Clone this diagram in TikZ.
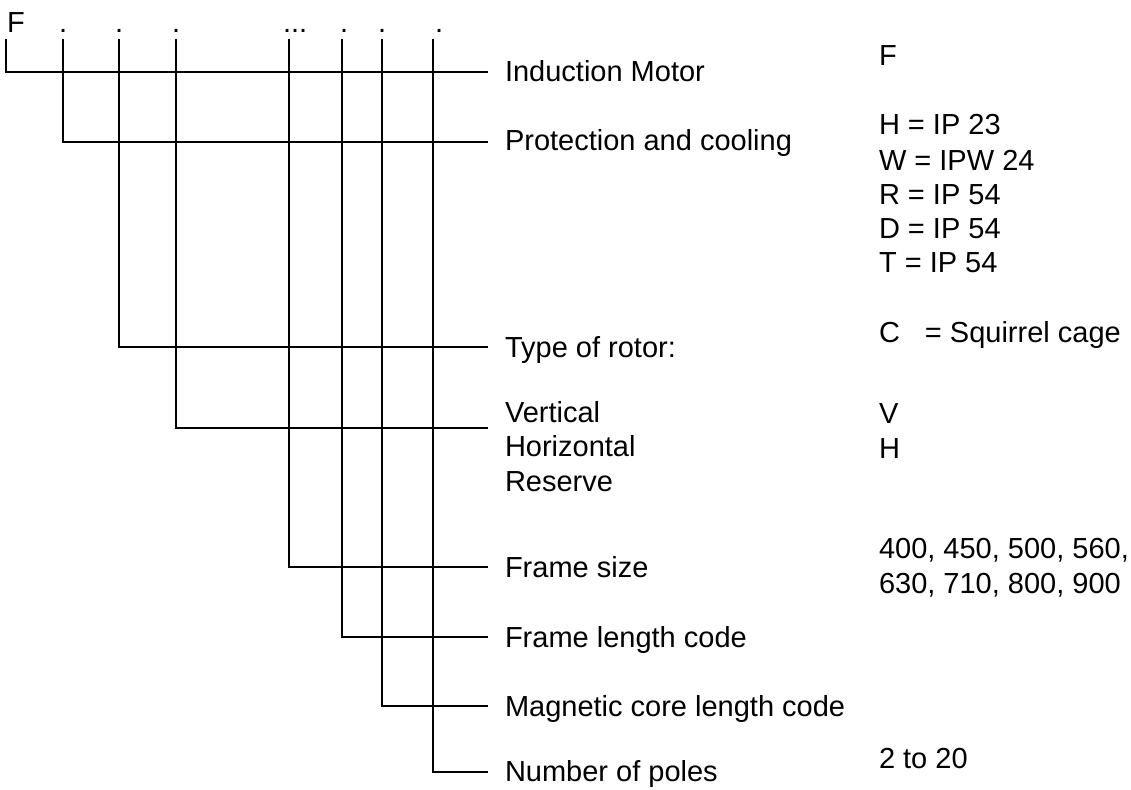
\documentclass[tikz,border=0pt]{standalone}
\usepackage{fontspec}
\setmainfont{Liberation Sans}
\begin{document}
\begin{tikzpicture}[x=1pt,y=-1pt,
  txt/.style={anchor=base west,inner sep=0pt,outer sep=0pt,font=\fontsize{29}{34}\selectfont,text=black},
  conn/.style={draw=black,line width=1.3pt}]
\useasboundingbox[fill=white] (0,0) rectangle (1131,789);
% code string
\node[txt] (code) at (7,33) {F};
\node[txt] (d1) at (59,33) {.};
\node[txt] (d2) at (115,33) {.};
\node[txt] (d3) at (172,33) {.};
\node[txt] (d4) at (283,33) {...};
\node[txt] (d5) at (340,33) {.};
\node[txt] (d6) at (378,33) {.};
\node[txt] (d7) at (435,33) {.};
% connector tops
\coordinate (t0) at (6,39);
\coordinate (t1) at (63,39);
\coordinate (t2) at (119,39);
\coordinate (t3) at (176,39);
\coordinate (t4) at (289,39);
\coordinate (t5) at (342,39);
\coordinate (t6) at (382,39);
\coordinate (t7) at (433,39);
% connector ends
\coordinate (e0) at (488,72);
\coordinate (e1) at (488,142);
\coordinate (e2) at (488,347);
\coordinate (e3) at (488,428);
\coordinate (e4) at (488,567);
\coordinate (e5) at (488,637);
\coordinate (e6) at (488,706);
\coordinate (e7) at (488,772);
\foreach \i in {0,...,7} {\draw[conn] (t\i) |- (e\i);}
% labels
\node[txt] (l0) at (505,82) {Induction Motor};
\node[txt] (l1) at (505,150) {Protection and cooling};
\node[txt] (l2) at (505,357) {Type of rotor:};
\node[txt] (l3a) at (505,422) {Vertical};
\node[txt] (l3b) at (505,456) {Horizontal};
\node[txt] (l3c) at (505,491) {Reserve};
\node[txt] (l4) at (505,577) {Frame size};
\node[txt] (l5) at (505,647) {Frame length code};
\node[txt] (l6) at (505,716) {Magnetic core length code};
\node[txt] (l7) at (505,781) {Number of poles};
% values
\node[txt] (v0) at (879,66) {F};
\node[txt] (v1a) at (879,135) {H = IP 23};
\node[txt] (v1b) at (879,170) {W = IPW 24};
\node[txt] (v1c) at (879,204) {R = IP 54};
\node[txt] (v1d) at (879,238) {D = IP 54};
\node[txt] (v1e) at (879,272) {T = IP 54};
\node[txt] (v2) at (879,342) {C\hspace{25pt}= Squirrel cage};
\node[txt] (v3a) at (879,423) {V};
\node[txt] (v3b) at (879,458) {H};
\node[txt] (v4a) at (879,558) {400, 450, 500, 560,};
\node[txt] (v4b) at (879,593) {630, 710, 800, 900};
\node[txt] (v7) at (879,768) {2 to 20};
\end{tikzpicture}
\end{document}
